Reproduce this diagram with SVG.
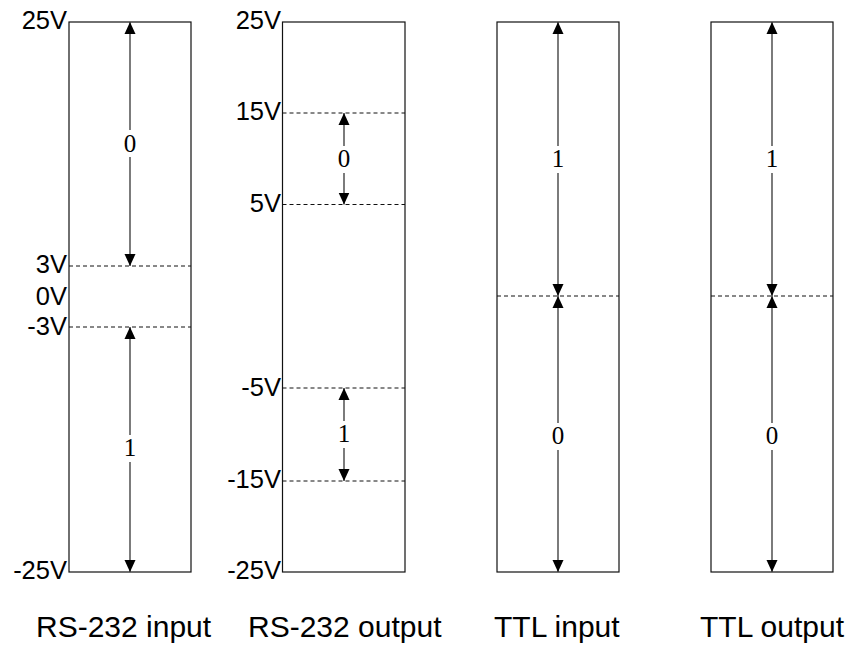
<svg xmlns="http://www.w3.org/2000/svg" width="851" height="646" viewBox="0 0 851 646">
<defs>
<marker id="ah" viewBox="0 0 12 12" refX="12" refY="6" markerWidth="12" markerHeight="12" markerUnits="userSpaceOnUse" orient="auto-start-reverse">
<path d="M0,0.5 L12,6 L0,11.5 Z" fill="#000"/>
</marker>
</defs>
<style>
.box{fill:#fff;stroke:#111;stroke-width:1.2}
.dash{stroke:#111;stroke-width:1;stroke-dasharray:4,3;fill:none}
.arr{stroke:#444;stroke-width:1.4;fill:none;marker-start:url(#ah);marker-end:url(#ah)}
.v{font-family:"Liberation Sans",Arial,sans-serif;font-size:25.5px;text-anchor:end;fill:#000}
.t{font-family:"Liberation Sans",Arial,sans-serif;font-size:30px;fill:#000}
.b{font-family:"Liberation Serif","Times New Roman",serif;font-size:25px;text-anchor:middle;fill:#000}
.bg{fill:#fff}
</style>
<g id="rs232-input">
<rect class="box" x="69" y="22" width="122" height="550"/>
<line class="dash" x1="69" y1="266" x2="191" y2="266"/>
<line class="dash" x1="69" y1="327" x2="191" y2="327"/>
<text class="v" x="67" y="29">25V</text>
<text class="v" x="67" y="273">3V</text>
<text class="v" x="67" y="305">0V</text>
<text class="v" x="67" y="335">-3V</text>
<text class="v" x="67" y="579">-25V</text>
<text class="t" x="36" y="637">RS-232 input</text>
</g>
<g id="rs232-output">
<rect class="box" x="282.5" y="22" width="122.5" height="550"/>
<line class="dash" x1="282.5" y1="113" x2="405" y2="113"/>
<line class="dash" x1="282.5" y1="204.5" x2="405" y2="204.5"/>
<line class="dash" x1="282.5" y1="388" x2="405" y2="388"/>
<line class="dash" x1="282.5" y1="481" x2="405" y2="481"/>
<text class="v" x="281" y="29">25V</text>
<text class="v" x="281" y="120">15V</text>
<text class="v" x="281" y="212">5V</text>
<text class="v" x="281" y="396">-5V</text>
<text class="v" x="281" y="488">-15V</text>
<text class="v" x="281" y="579">-25V</text>
<text class="t" x="248" y="637">RS-232 output</text>
</g>
<g id="ttl-input">
<rect class="box" x="497" y="22" width="122" height="550"/>
<line class="dash" x1="497" y1="296" x2="619" y2="296"/>
<text class="t" x="494" y="637">TTL input</text>
</g>
<g id="ttl-output">
<rect class="box" x="711" y="22" width="122" height="550"/>
<line class="dash" x1="711" y1="296" x2="833" y2="296"/>
<text class="t" x="700" y="637">TTL output</text>
</g>
<g id="connectors">
<line class="arr" x1="130" y1="22" x2="130" y2="266"/>
<line class="arr" x1="130" y1="327" x2="130" y2="572"/>
<line class="arr" x1="344" y1="113" x2="344" y2="204.5"/>
<line class="arr" x1="344" y1="388" x2="344" y2="481"/>
<line class="arr" x1="558" y1="22" x2="558" y2="296"/>
<line class="arr" x1="558" y1="296" x2="558" y2="572"/>
<line class="arr" x1="772" y1="22" x2="772" y2="296"/>
<line class="arr" x1="772" y1="296" x2="772" y2="572"/>
<rect class="bg" x="122" y="130" width="16" height="27"/>
<text class="b" x="130" y="151.5">0</text>
<rect class="bg" x="122" y="435" width="16" height="27"/>
<text class="b" x="130" y="456">1</text>
<rect class="bg" x="336" y="146" width="16" height="27"/>
<text class="b" x="344" y="166.5">0</text>
<rect class="bg" x="336" y="421" width="16" height="27"/>
<text class="b" x="344" y="441.5">1</text>
<rect class="bg" x="550" y="146" width="16" height="27"/>
<text class="b" x="558" y="166.5">1</text>
<rect class="bg" x="550" y="423" width="16" height="27"/>
<text class="b" x="558" y="443.5">0</text>
<rect class="bg" x="764" y="146" width="16" height="27"/>
<text class="b" x="772" y="166.5">1</text>
<rect class="bg" x="764" y="423" width="16" height="27"/>
<text class="b" x="772" y="443.5">0</text>
</g>
</svg>
